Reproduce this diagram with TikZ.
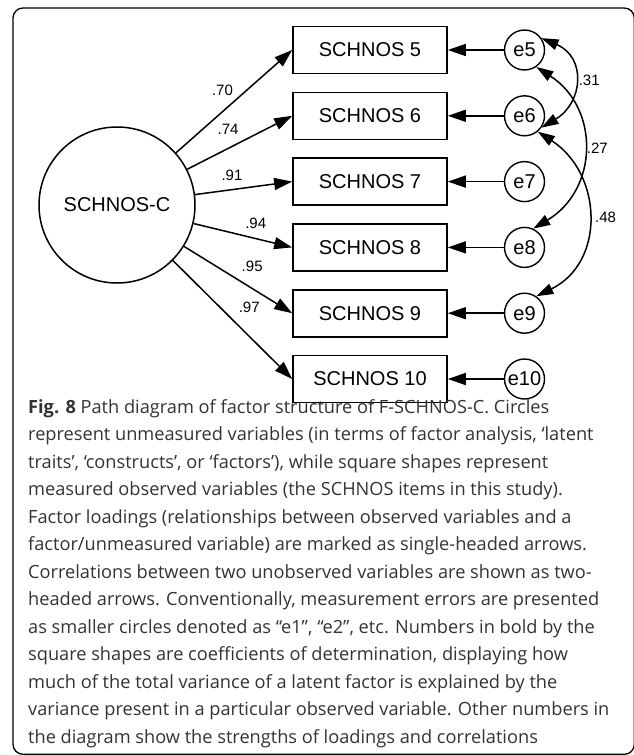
\documentclass[tikz,border=0pt]{standalone}
\usepackage{fontspec}
\setsansfont{Liberation Sans}
\newfontfamily\capfont{Open Sans}
\usetikzlibrary{arrows.meta,positioning}
\tikzset{
  latent/.style={draw,circle,line width=1.5pt,minimum size=156pt,inner sep=0pt,
                 font=\sffamily\fontsize{20}{24}\selectfont},
  item/.style={draw,line width=1.6pt,minimum width=154pt,minimum height=47pt,inner sep=0pt,
               font=\sffamily\fontsize{20}{24}\selectfont},
  err/.style={draw,circle,line width=1.4pt,minimum size=40pt,inner sep=0pt,
              font=\sffamily\fontsize{20}{24}\selectfont},
  load/.style={-{Triangle[length=18pt,width=12pt]},line width=1.5pt},
  corr/.style={{Triangle[length=17pt,width=11pt]}-{Triangle[length=17pt,width=11pt]},line width=1.5pt},
  num/.style={font=\sffamily\fontsize{15}{17}\selectfont,inner sep=0pt},
}

\begin{document}
\begin{tikzpicture}[x=1pt,y=-1pt]
  \useasboundingbox (0,0) rectangle (634,755);
  \draw[line width=1.3pt,rounded corners=10pt] (13,8) rectangle (634.3,754.3);

  % latent factor and items
  \node[latent] (lat) at (117,205) {SCHNOS-C};
  \node[item] (b5) at (370,50) {SCHNOS 5};
  \node[item,below=17.2pt of b5] (b6) {SCHNOS 6};
  \node[item,below=17.2pt of b6] (b7) {SCHNOS 7};
  \node[item,below=17.2pt of b7] (b8) {SCHNOS 8};
  \node[item,below=17.2pt of b8] (b9) {SCHNOS 9};
  \node[item,below=17.2pt of b9] (b10) {SCHNOS 10};

  % error terms
  \node[err,right=56pt of b5] (e5) {e5};
  \node[err,right=56pt of b6] (e6) {e6};
  \node[err,right=56pt of b7] (e7) {e7};
  \node[err,right=56pt of b8] (e8) {e8};
  \node[err,right=56pt of b9] (e9) {e9};
  \node[err,right=56pt of b10] (e10) {e10};

  % loadings
  \draw[load] (lat) -- node[num,pos=0.40,yshift=21.6pt] {.70} (b5.west);
  \draw[load] (lat) -- node[num,pos=0.39,yshift=18.7pt] {.74} (b6.west);
  \draw[load] (lat) -- node[num,pos=0.38,yshift=14.7pt] {.91} (b7.west);
  \draw[load] (lat) -- node[num,pos=0.63,yshift=15.6pt] {.94} (b8.west);
  \draw[load] (lat) -- node[num,pos=0.63,yshift=21.8pt] {.95} (b9.west);
  \draw[load] (lat) -- node[num,pos=0.64,yshift=29.5pt] {.97} (b10.west);

  \draw[load] (e5) -- (b5);
  \draw[load] (e6) -- (b6);
  \draw[load] (e7) -- (b7);
  \draw[load] (e8) -- (b8);
  \draw[load] (e9) -- (b9);
  \draw[load] (e10) -- (b10);

  % correlated errors
  \draw[corr] (e5.35) to[out=-23,in=31,looseness=1.4] node[num,pos=0.5,right=4pt] {.31} (e6.-35);
  \draw[corr] (e5.-55) to[out=-33,in=31,looseness=1.2] node[num,pos=0.5,right=3pt] {.27} (e8.65);
  \draw[corr] (e6.-50) to[out=-33,in=26,looseness=1.2] node[num,pos=0.5,right=7pt] {.48} (e9.55);

  % caption (base = last line)
  \node[anchor=base west,align=left,inner sep=0pt,text=black!80,
        font=\capfont\fontsize{18.2}{27.5}\selectfont] (cap) at (28,743)
  {\textbf{Fig. 8} Path diagram of factor structure of F-SCHNOS-C. Circles\\
   represent unmeasured variables (in terms of factor analysis, ‘latent\\
   traits’, ‘constructs’, or ‘factors’), while square shapes represent\\
   measured observed variables (the SCHNOS items in this study).\\
   Factor loadings (relationships between observed variables and a\\
   factor/unmeasured variable) are marked as single-headed arrows.\\
   Correlations between two unobserved variables are shown as two-\\
   headed arrows. Conventionally, measurement errors are presented\\
   as smaller circles denoted as “e1”, “e2”, etc. Numbers in bold by the\\
   square shapes are coefficients of determination, displaying how\\
   much of the total variance of a latent factor is explained by the\\
   variance present in a particular observed variable. Other numbers in\\
   the diagram show the strengths of loadings and correlations};
\end{tikzpicture}
\end{document}
